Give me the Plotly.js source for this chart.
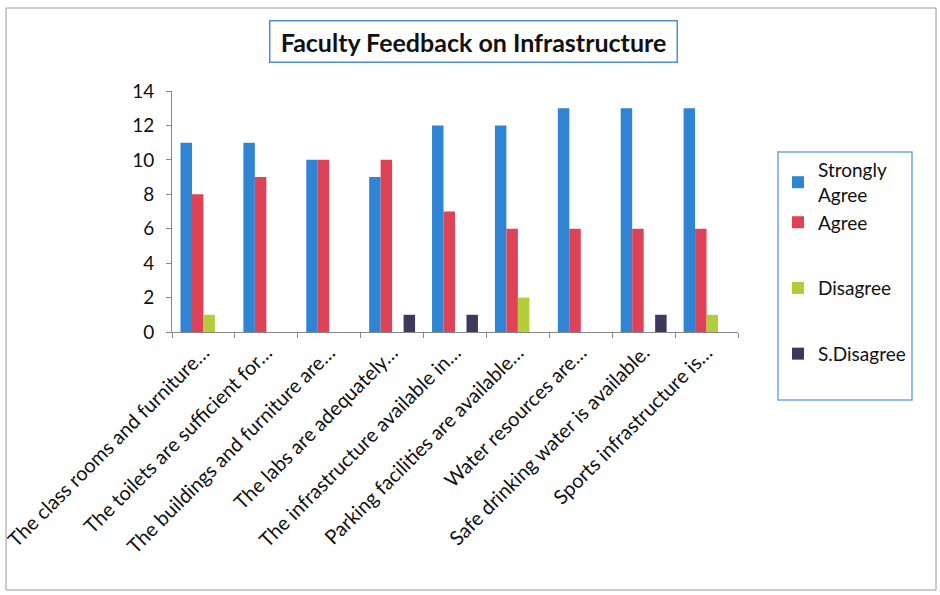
<!DOCTYPE html>
<html><head><meta charset="utf-8">
<script src="https://cdn.plot.ly/plotly-3.0.1.min.js"></script>
<style>html,body{margin:0;padding:0;background:#fff}</style>
</head><body>
<div id="chart" style="width:940px;height:595px"></div>
<script>
const categories = [
  "The class rooms and furniture…",
  "The toilets are sufficient for…",
  "The buildings and furniture are…",
  "The labs are adequately…",
  "The infrastructure available in…",
  "Parking facilities are available…",
  "Water resources are…",
  "Safe drinking water is available.",
  "Sports infrastructure is…"
];
const seriesNames = ["Strongly<br>Agree", "Agree", "Disagree", "S.Disagree"];
const stronglyAgree = [11, 11, 10, 9, 12, 12, 13, 13, 13];
const agree = [8, 9, 10, 10, 7, 6, 6, 6, 6];
const disagree = [1, 0, 0, 0, 0, 2, 0, 0, 1];
const sDisagree = [0, 0, 0, 1, 1, 0, 0, 1, 0];
const yTicks = [0, 2, 4, 6, 8, 10, 12, 14];

const colors = ["#2f84d4", "#de4256", "#b3cc3a", "#3e395c"];
const values = [stronglyAgree, agree, disagree, sDisagree];
const groups = ["g0", "g0", "g1", "g2"];
const font = "Lato, 'Open Sans', sans-serif";

const traces = values.map((v, i) => ({
  type: "bar", x: categories, y: v, name: seriesNames[i],
  legendgroup: groups[i],
  marker: {color: colors[i]}
}));

const L = 172, R = 738, T = 91, B = 332;
const pw = R - L, ph = B - T;
const px = x => (x - L) / pw;
const py = y => (B - y) / ph;

const layout = {
  width: 940, height: 595,
  margin: {l: L, r: 940 - R, t: T, b: 595 - B},
  paper_bgcolor: "#fff", plot_bgcolor: "#fff",
  barmode: "group", bargap: 0.27, bargroupgap: 0,
  showlegend: true,
  font: {family: font, color: "#111"},
  xaxis: {
    type: "category", tickangle: -45, tickson: "boundaries",
    ticks: "outside", ticklen: 5, tickcolor: "#888",
    showline: true, linecolor: "#888", linewidth: 1,
    tickfont: {size: 20, family: font, color: "#111"},
    showgrid: false, zeroline: false
  },
  yaxis: {
    range: [0, 14], tickvals: yTicks, ticktext: yTicks.map(String),
    ticks: "outside", ticklen: 5, tickcolor: "#888",
    showline: true, linecolor: "#888", linewidth: 1,
    ticklabelstandoff: 8,
    tickfont: {size: 19, family: font, color: "#111"},
    showgrid: false, zeroline: false
  },
  legend: {
    x: px(778), y: py(151), xanchor: "left", yanchor: "top",
    borderwidth: 0, bgcolor: "rgba(0,0,0,0)",
    font: {size: 19, family: font, color: "#111"},
    traceorder: "grouped", tracegroupgap: 38,
    itemwidth: 30
  },
  annotations: [{
    text: "<b>Faculty Feedback on Infrastructure</b>",
    xref: "paper", yref: "paper",
    x: px(473), y: py(41), xanchor: "center", yanchor: "middle",
    showarrow: false, width: 404, height: 38,
    bordercolor: "#4f8fd0", borderwidth: 1.5, borderpad: 1,
    font: {size: 25, family: font, color: "#111"}
  }],
  shapes: [{
    type: "rect", xref: "paper", yref: "paper",
    x0: px(6), x1: px(936), y0: py(590), y1: py(8),
    line: {color: "#999", width: 1}
  }, {
    type: "rect", xref: "paper", yref: "paper",
    x0: px(778), x1: px(912), y0: py(400), y1: py(152),
    line: {color: "#6fa8dc", width: 1.5}
  }]
};

Plotly.newPlot("chart", traces, layout, {displayModeBar: false, staticPlot: true});
</script>
</body></html>
